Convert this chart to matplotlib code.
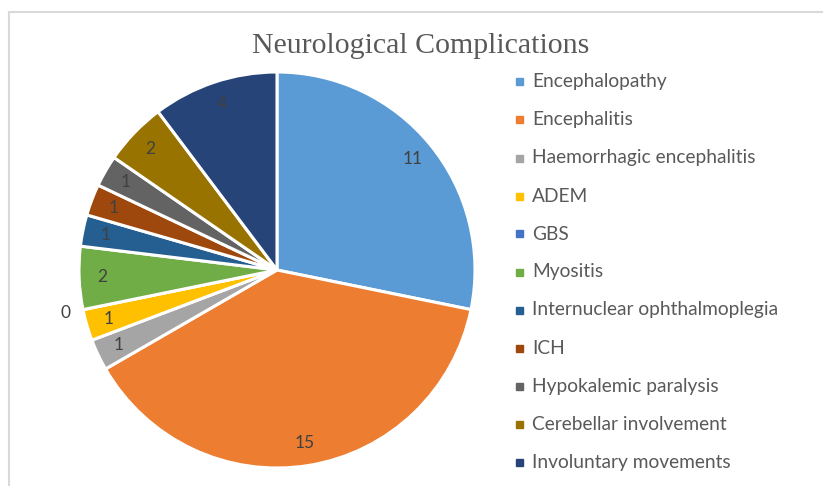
import matplotlib
matplotlib.use("Agg")
import matplotlib.pyplot as plt
from matplotlib.patches import Rectangle
from matplotlib.lines import Line2D
import numpy as np

categories = ["Encephalopathy", "Encephalitis", "Haemorrhagic encephalitis", "ADEM", "GBS",
              "Myositis", "Internuclear ophthalmoplegia", "ICH", "Hypokalemic paralysis",
              "Cerebellar involvement", "Involuntary movements"]
values = [11, 15, 1, 1, 0, 2, 1, 1, 1, 2, 4]
colors = ["#5B9BD5", "#ED7D31", "#A5A5A5", "#FFC000", "#4472C4", "#70AD47",
          "#255E91", "#9E480E", "#636363", "#997300", "#264478"]
title = "Neurological Complications"

W, H = 823, 486
fig = plt.figure(figsize=(W / 100, H / 100), dpi=100)

def fx(px):
    return px / W

def fy(py):
    return 1 - py / H

# border
fig.add_artist(Line2D([fx(9), fx(823)], [fy(12), fy(12)], color="#d9d9d9", lw=1.5))
fig.add_artist(Line2D([fx(9), fx(9)], [fy(12), fy(486)], color="#d9d9d9", lw=1.5))

# pie
cx, cy, R = 277, 270, 198
ax = fig.add_axes([fx(cx - R), fy(cy + R), 2 * R / W, 2 * R / H])
wedges, _ = ax.pie(values, colors=colors, startangle=90, counterclock=False,
                   wedgeprops=dict(edgecolor="white", linewidth=2.2))
ax.set_xlim(-1, 1)
ax.set_ylim(-1, 1)
ax.set_aspect("equal")
ax.axis("off")

total = sum(values)
ang = 90.0
for v in values:
    span = 360.0 * v / total
    mid = np.deg2rad(ang - span / 2)
    r = 0.885 if v > 0 else 1.09
    ax.text(r * np.cos(mid), r * np.sin(mid), str(v), ha="center", va="center",
            fontsize=12.5, color="#404040", family="Lato")
    ang -= span

fig.text(fx(421), fy(46), title, ha="center", va="center", fontsize=21.5,
         color="#595959", family="Liberation Serif")

# legend
y0, dy = 82, 38
for i, (c, col) in enumerate(zip(categories, colors)):
    yy = y0 + i * dy
    fig.add_artist(Rectangle((fx(516), fy(yy + 3.5)), 7 / W, 7 / H, color=col,
                             transform=fig.transFigure))
    fig.text(fx(532), fy(yy), c, ha="left", va="center", fontsize=13.8,
             color="#595959", family="Lato")

fig.savefig("out.png", dpi=100, facecolor="white")
